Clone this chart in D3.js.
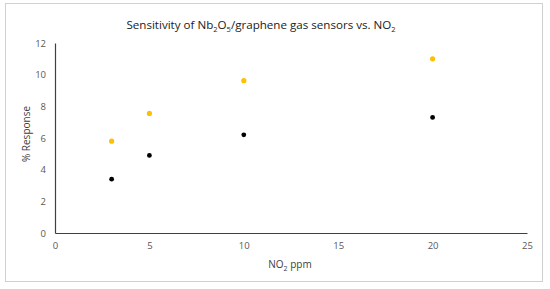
<!DOCTYPE html>
<html>
<head>
<meta charset="utf-8">
<script src="https://cdn.jsdelivr.net/npm/d3@7"></script>
<style>
  body { margin: 0; background: #fff; }
  text { font-family: "Open Sans", "Noto Sans", sans-serif; }
</style>
</head>
<body>
<svg width="550" height="289"></svg>
<script>
// data
const ppm = [3, 5, 10, 20]
const seriesA = [5.8, 7.55, 9.62, 11.0]   // orange
const seriesB = [3.4, 4.9, 6.2, 7.3]      // black
const xTicks = [0, 5, 10, 15, 20, 25]
const yTicks = [0, 2, 4, 6, 8, 10, 12]

let svg = d3.select('svg')

// outer frame
svg.append('rect')
    .attr('x', 5.5).attr('y', 3.5)
    .attr('width', 537).attr('height', 278)
    .attr('fill', '#fff')
    .attr('stroke', '#d0d0d0')

let x = d3.scaleLinear().domain([0, 25]).range([55, 527])
let y = d3.scaleLinear().domain([0, 12]).range([233, 43])

let xAxis = svg.append('g')
    .attr('transform', 'translate(0,' + y(0) + ')')
    .call(d3.axisBottom(x).tickValues(xTicks).tickSize(0).tickPadding(9))
let yAxis = svg.append('g')
    .attr('transform', 'translate(' + x(0) + ',0)')
    .call(d3.axisLeft(y).tickValues(yTicks).tickSize(0).tickPadding(9))

for (let ax of [xAxis, yAxis]) {
    ax.select('.domain').attr('stroke', '#404040').attr('stroke-width', 1.2)
    ax.selectAll('text').attr('fill', '#595959').style('font-size', '9.5px')
        .style('font-family', '"Open Sans", sans-serif')
}

// title with subscripts
let title = svg.append('text')
    .attr('x', 261).attr('y', 29)
    .attr('text-anchor', 'middle')
    .attr('fill', '#222')
    .style('font-size', '11.6px')
title.append('tspan').text('Sensitivity of Nb')
title.append('tspan').text('2').attr('dy', 3).style('font-size', '7.5px')
title.append('tspan').text('O').attr('dy', -3)
title.append('tspan').text('5').attr('dy', 3).style('font-size', '7.5px')
title.append('tspan').text('/graphene gas sensors vs. NO').attr('dy', -3)
title.append('tspan').text('2').attr('dy', 3).style('font-size', '7.5px')

// x axis title
let xt = svg.append('text')
    .attr('x', 290).attr('y', 268)
    .attr('text-anchor', 'middle')
    .attr('fill', '#404040')
    .style('font-size', '10px')
xt.append('tspan').text('NO')
xt.append('tspan').text('2').attr('dy', 2.5).style('font-size', '7px')
xt.append('tspan').text(' ppm').attr('dy', -2.5)

// y axis title
svg.append('text')
    .attr('transform', 'translate(30,134) rotate(-90)')
    .attr('text-anchor', 'middle')
    .attr('fill', '#404040')
    .style('font-size', '10px')
    .text('% Response')

// points
svg.append('g').selectAll('circle')
    .data(ppm.map((p, i) => [p, seriesA[i]]))
    .enter().append('circle')
    .attr('cx', d => x(d[0])).attr('cy', d => y(d[1]))
    .attr('r', 2.6).attr('fill', '#ffc000')

svg.append('g').selectAll('circle')
    .data(ppm.map((p, i) => [p, seriesB[i]]))
    .enter().append('circle')
    .attr('cx', d => x(d[0])).attr('cy', d => y(d[1]))
    .attr('r', 2.4).attr('fill', '#000')
</script>
</body>
</html>
